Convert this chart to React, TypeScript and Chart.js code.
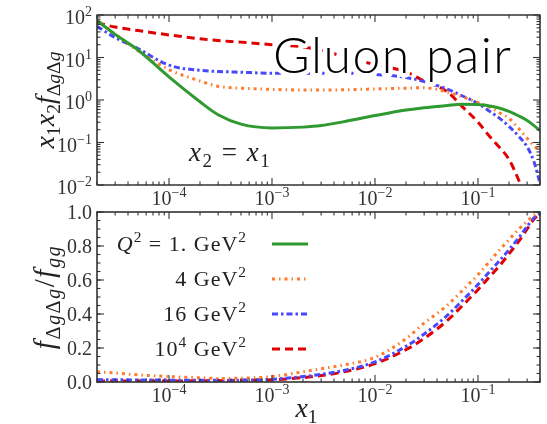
import { useEffect, useRef } from 'react';
import { Chart, registerables } from 'chart.js';

Chart.register(...registerables);

// Momentum fraction grid shared by both panels
const x1Values = [
  2e-5, 3e-5, 5e-5, 1e-4, 2e-4, 3e-4, 5e-4, 1e-3, 2e-3, 3e-3, 5e-3, 1e-2,
  2e-2, 3e-2, 5e-2, 7e-2, 0.1, 0.13, 0.16, 0.2, 0.25, 0.3, 0.35, 0.4,
];

// Upper panel: x1 x2 f_{ΔgΔg} along x2 = x1
const lumiQ1 = [74, 35, 15, 3.5, 0.91, 0.45, 0.27, 0.22, 0.23, 0.25, 0.31, 0.43, 0.58, 0.66, 0.74, 0.79, 0.78, 0.72, 0.65, 0.54, 0.42, 0.33, 0.25, 0.19];
const lumiQ4 = [76, 35.5, 14.5, 5.2, 2.8, 2.1, 1.9, 1.78, 1.72, 1.72, 1.74, 1.82, 1.9, 1.95, 1.55, 1.2, 0.87, 0.68, 0.51, 0.37, 0.21, 0.126, 0.083, 0.063];
const lumiQ16 = [54, 29.5, 16.2, 6.6, 5.0, 4.7, 4.5, 4.27, 4.27, 4.27, 4.27, 4.0, 3.4, 2.7, 1.82, 1.26, 0.83, 0.54, 0.38, 0.24, 0.138, 0.079, 0.035, 0.011];
const lumiQ1e4 = [66, 52, 43, 34, 27.5, 25, 23, 20, 17.8, 14.8, 10.5, 6.8, 4.6, 2.8, 1.58, 0.71, 0.3, 0.138, 0.079, 0.04, 0.0126, 0.004, 0.00126, 0.0004];

// Lower panel: ratio f_{ΔgΔg} / f_{gg}
const ratioQ4 = [0.06, 0.053, 0.042, 0.032, 0.025, 0.021, 0.022, 0.032, 0.06, 0.078, 0.1, 0.145, 0.255, 0.346, 0.45, 0.536, 0.631, 0.71, 0.773, 0.837, 0.9, 0.945, 0.98, 1.0];
const ratioQ16 = [0.014, 0.013, 0.012, 0.011, 0.01, 0.01, 0.011, 0.016, 0.032, 0.045, 0.068, 0.118, 0.21, 0.282, 0.39, 0.477, 0.573, 0.65, 0.71, 0.778, 0.85, 0.915, 0.966, 0.99];
const ratioQ1e4 = [0.006, 0.006, 0.006, 0.006, 0.007, 0.008, 0.01, 0.013, 0.026, 0.038, 0.06, 0.108, 0.19, 0.256, 0.36, 0.447, 0.543, 0.62, 0.68, 0.754, 0.83, 0.9, 0.958, 0.99];

// Axis ranges and tick labels
const xRange = [2e-5, 0.4];
const xMajorTicks = [1e-4, 1e-3, 1e-2, 1e-1];
const xTickExponents = ['\u22124', '\u22123', '\u22122', '\u22121'];
const topYRange = [1e-2, 1e2];
const topYMajorTicks = [1e-2, 1e-1, 1, 10, 100];
const topYTickExponents = ['\u22122', '\u22121', '0', '1', '2'];
const bottomYRange = [0, 1];
const bottomYMajorTicks = [0, 0.2, 0.4, 0.6, 0.8, 1.0];
const bottomYTickLabels = ['0.0', '0.2', '0.4', '0.6', '0.8', '1.0'];

// Legend entries (Q^2 values)
const legendScale = ['1.', '4', '16', '10'];

const SERIF = '"Liberation Serif", "DejaVu Serif", serif';
const INK = '#333333';

const styles = [
  { color: '#2f9a2f', dash: [] as number[] },
  { color: '#ff7a2a', dash: [3, 4, 1.5, 4] },
  { color: '#4848ff', dash: [6, 3, 2.5, 3] },
  { color: '#e00000', dash: [8, 5] },
];

type Seg = { t: string; it?: boolean; pos?: 'sup' | 'sub' };

function segFont(seg: Seg, size: number) {
  const s = seg.pos ? size * 0.7 : size;
  return `${seg.it ? 'italic ' : ''}${s}px ${SERIF}`;
}

function drawMath(
  ctx: CanvasRenderingContext2D,
  segs: Seg[],
  x: number,
  y: number,
  size: number,
  align: 'left' | 'right' | 'center',
  spacing = 0
) {
  ctx.textAlign = 'left';
  ctx.textBaseline = 'alphabetic';
  (ctx as any).letterSpacing = `${spacing}px`;
  const widths: number[] = [];
  let total = 0;
  for (const seg of segs) {
    ctx.font = segFont(seg, size);
    const w = ctx.measureText(seg.t).width;
    widths.push(w);
    total += w;
  }
  let cx = align === 'right' ? x - total : align === 'center' ? x - total / 2 : x;
  segs.forEach((seg, i) => {
    ctx.font = segFont(seg, size);
    const dy = seg.pos === 'sup' ? -size * 0.4 : seg.pos === 'sub' ? size * 0.22 : 0;
    ctx.fillText(seg.t, cx, y + dy);
    cx += widths[i];
  });
  (ctx as any).letterSpacing = '0px';
}

function logMinors(min: number, max: number) {
  const out: number[] = [];
  for (let e = Math.floor(Math.log10(min)); e <= Math.ceil(Math.log10(max)); e++) {
    for (let k = 2; k <= 9; k++) {
      const v = k * Math.pow(10, e);
      if (v >= min && v <= max) out.push(v);
    }
  }
  return out;
}

function linearMinors(min: number, max: number, step: number) {
  const out: number[] = [];
  for (let v = min; v <= max + 1e-9; v += step) out.push(v);
  return out;
}

type FrameCfg = {
  yMajors: number[];
  yMinors: number[];
  yLabel: (i: number) => Seg[];
  yLabelDy: number;
  yTitle: Seg[];
  yTitleSize: number;
  yTitleSpacing: number;
  extra?: (chart: Chart, ctx: CanvasRenderingContext2D) => void;
};

function framePlugin(cfg: FrameCfg) {
  return {
    id: 'frame',
    afterDatasetsDraw(chart: Chart) {
      const ctx = chart.ctx;
      const { left, right, top, bottom } = chart.chartArea;
      const xs = chart.scales.x;
      const ys = chart.scales.y;
      ctx.save();
      if (cfg.extra) cfg.extra(chart, ctx);
      ctx.strokeStyle = INK;
      ctx.lineWidth = 1.6;
      ctx.strokeRect(left, top, right - left, bottom - top);
      ctx.lineWidth = 1.1;
      const tick = (x0: number, y0: number, x1: number, y1: number) => {
        ctx.beginPath();
        ctx.moveTo(x0, y0);
        ctx.lineTo(x1, y1);
        ctx.stroke();
      };
      for (const v of logMinors(xRange[0], xRange[1])) {
        const p = xs.getPixelForValue(v);
        tick(p, bottom, p, bottom - 3.5);
        tick(p, top, p, top + 3.5);
      }
      for (const v of xMajorTicks) {
        const p = xs.getPixelForValue(v);
        tick(p, bottom, p, bottom - 7);
        tick(p, top, p, top + 7);
      }
      for (const v of cfg.yMinors) {
        const p = ys.getPixelForValue(v);
        tick(left, p, left + 3.5, p);
        tick(right, p, right - 3.5, p);
      }
      for (const v of cfg.yMajors) {
        const p = ys.getPixelForValue(v);
        tick(left, p, left + 7, p);
        tick(right, p, right - 7, p);
      }
      ctx.fillStyle = INK;
      xMajorTicks.forEach((v, i) => {
        const p = xs.getPixelForValue(v);
        drawMath(ctx, [{ t: '10' }, { t: xTickExponents[i], pos: 'sup' }], p, bottom + 20, 20, 'center');
      });
      cfg.yMajors.forEach((v, i) => {
        const p = ys.getPixelForValue(v);
        drawMath(ctx, cfg.yLabel(i), left - 5, p + cfg.yLabelDy, 20, 'right');
      });
      ctx.save();
      ctx.translate(left - 43, (top + bottom) / 2);
      ctx.rotate(-Math.PI / 2);
      ctx.fillStyle = '#222';
      drawMath(ctx, cfg.yTitle, 0, 0, cfg.yTitleSize, 'center', cfg.yTitleSpacing);
      ctx.restore();
      ctx.restore();
    },
  };
}

function lineDataset(values: number[], s: { color: string; dash: number[] }) {
  return {
    data: x1Values.map((x, i) => ({ x, y: values[i] })),
    borderColor: s.color,
    borderWidth: 3,
    borderDash: s.dash,
    borderCapStyle: 'butt' as const,
    pointRadius: 0,
    fill: false,
    cubicInterpolationMode: 'monotone' as const,
    clip: 0,
  };
}

function baseOptions(padding: { left: number; right: number; top: number; bottom: number }, yType: 'logarithmic' | 'linear', yRange: number[]) {
  return {
    responsive: false,
    animation: false as const,
    devicePixelRatio: 1,
    layout: { padding },
    plugins: { legend: { display: false }, tooltip: { enabled: false } },
    scales: {
      x: { type: 'logarithmic' as const, min: xRange[0], max: xRange[1], display: false },
      y: { type: yType, min: yRange[0], max: yRange[1], display: false },
    },
  };
}

export default function App() {
  const topRef = useRef<HTMLCanvasElement>(null);
  const bottomRef = useRef<HTMLCanvasElement>(null);

  useEffect(() => {
    const topChart = new Chart(topRef.current!, {
      type: 'line',
      data: {
        datasets: [
          lineDataset(lumiQ1, styles[0]),
          lineDataset(lumiQ4, styles[1]),
          lineDataset(lumiQ16, styles[2]),
          lineDataset(lumiQ1e4, styles[3]),
        ],
      },
      options: baseOptions({ left: 97, right: 7, top: 15, bottom: 30 }, 'logarithmic', topYRange) as any,
      plugins: [
        framePlugin({
          yMajors: topYMajorTicks,
          yMinors: logMinors(topYRange[0], topYRange[1]),
          yLabel: (i) => [{ t: '10' }, { t: topYTickExponents[i], pos: 'sup' }],
          yLabelDy: 9,
          yTitleSize: 28,
          yTitleSpacing: 0,
          yTitle: [
            { t: 'x', it: true }, { t: '1', pos: 'sub' },
            { t: 'x', it: true }, { t: '2', pos: 'sub' },
            { t: 'f', it: true },
            { t: '\u0394', pos: 'sub' }, { t: 'g', it: true, pos: 'sub' },
            { t: '\u0394', pos: 'sub' }, { t: 'g', it: true, pos: 'sub' },
          ],
          extra: (chart, ctx) => {
            const { left, top } = chart.chartArea;
            ctx.fillStyle = '#222';
            drawMath(
              ctx,
              [
                { t: 'x', it: true }, { t: '2', pos: 'sub' },
                { t: ' = ' },
                { t: 'x', it: true }, { t: '1', pos: 'sub' },
              ],
              left + 92, top + 146, 27, 'left', 1.5
            );
            ctx.font = '300 50px Lato, "Open Sans", sans-serif';
            (ctx as any).letterSpacing = '1.5px';
            ctx.textAlign = 'left';
            ctx.textBaseline = 'alphabetic';
            ctx.lineJoin = 'round';
            ctx.lineWidth = 9;
            ctx.strokeStyle = '#ffffff';
            ctx.strokeText('Gluon pair', left + 176, top + 58);
            ctx.fillStyle = '#000000';
            ctx.fillText('Gluon pair', left + 176, top + 58);
            (ctx as any).letterSpacing = '0px';
          },
        }),
      ],
    });

    const bottomChart = new Chart(bottomRef.current!, {
      type: 'line',
      data: {
        datasets: [
          lineDataset(ratioQ4, styles[1]),
          lineDataset(ratioQ16, styles[2]),
          lineDataset(ratioQ1e4, styles[3]),
        ],
      },
      options: baseOptions({ left: 97, right: 7, top: 17, bottom: 42 }, 'linear', bottomYRange) as any,
      plugins: [
        framePlugin({
          yMajors: bottomYMajorTicks,
          yMinors: linearMinors(0, 1, 0.05),
          yLabel: (i) => [{ t: bottomYTickLabels[i] }],
          yLabelDy: 7,
          yTitleSize: 29,
          yTitleSpacing: 1.5,
          yTitle: [
            { t: 'f', it: true },
            { t: '\u0394', pos: 'sub' }, { t: 'g', it: true, pos: 'sub' },
            { t: '\u0394', pos: 'sub' }, { t: 'g', it: true, pos: 'sub' },
            { t: '/' },
            { t: 'f', it: true },
            { t: 'gg', it: true, pos: 'sub' },
          ],
          extra: (chart, ctx) => {
            const { left, right, top, bottom } = chart.chartArea;
            const rows: Seg[][] = [
              [{ t: 'Q', it: true }, { t: '2', pos: 'sup' }, { t: ' = ' + legendScale[0] + ' GeV' }, { t: '2', pos: 'sup' }],
              [{ t: legendScale[1] + ' GeV' }, { t: '2', pos: 'sup' }],
              [{ t: legendScale[2] + ' GeV' }, { t: '2', pos: 'sup' }],
              [{ t: legendScale[3] }, { t: '4', pos: 'sup' }, { t: ' GeV' }, { t: '2', pos: 'sup' }],
            ];
            rows.forEach((segs, i) => {
              const y = top + 32 + i * 35;
              ctx.fillStyle = '#222';
              drawMath(ctx, segs, left + 150, y + 7, 22, 'right', 1);
              const s = styles[i];
              ctx.save();
              ctx.strokeStyle = s.color;
              ctx.lineWidth = 3;
              ctx.setLineDash(s.dash);
              ctx.beginPath();
              ctx.moveTo(left + 175, y);
              ctx.lineTo(left + 211, y);
              ctx.stroke();
              ctx.restore();
            });
            ctx.fillStyle = '#222';
            drawMath(ctx, [{ t: 'x', it: true }, { t: '1', pos: 'sub' }], (left + right) / 2 - 12, bottom + 35, 28, 'center');
          },
        }),
      ],
    });

    return () => {
      topChart.destroy();
      bottomChart.destroy();
    };
  }, []);

  return (
    <div style={{ position: 'absolute', left: 0, top: 0, width: 547, height: 424, background: '#fff' }}>
      <canvas ref={topRef} width={547} height={215} style={{ position: 'absolute', left: 0, top: 0 }} />
      <canvas ref={bottomRef} width={547} height={229} style={{ position: 'absolute', left: 0, top: 195 }} />
    </div>
  );
}
